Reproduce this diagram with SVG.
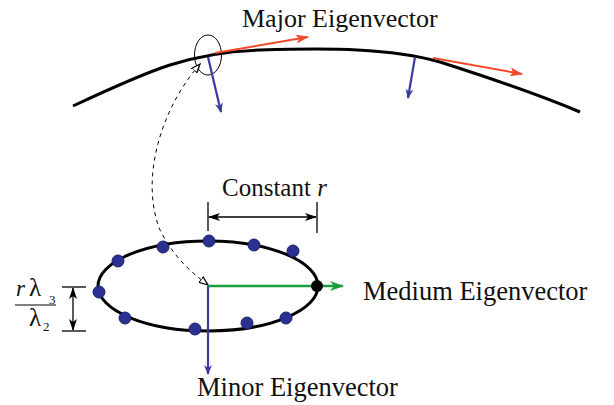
<svg xmlns="http://www.w3.org/2000/svg" width="614" height="405" viewBox="0 0 614 405">
<style>
.lbl{font-family:"Liberation Serif","Times New Roman",serif;fill:#111;}
.curve{fill:none;stroke:#000;stroke-width:3;}
.blue{stroke:#3b3aa0;stroke-width:2.2;fill:none;}
.red{stroke:#f4492b;stroke-width:2;fill:none;}
.green{stroke:#1a9e3c;stroke-width:2.5;fill:none;}
.dim{stroke:#000;stroke-width:1.3;fill:none;}
.dot{fill:#2b3190;stroke:#1c1f6a;stroke-width:1;}
</style>
<defs>
<marker id="ab" markerWidth="10" markerHeight="8" refX="9" refY="4" orient="auto" markerUnits="userSpaceOnUse"><path d="M0,0 L10,4 L0,8 L3,4 Z" fill="#3b3aa0"/></marker>
<marker id="ar" markerWidth="13" markerHeight="9" refX="12" refY="4.5" orient="auto" markerUnits="userSpaceOnUse"><path d="M0,0 L13,4.5 L0,9 L3,4.5 Z" fill="#f4492b"/></marker>
<marker id="ag" markerWidth="14" markerHeight="10" refX="13" refY="5" orient="auto" markerUnits="userSpaceOnUse"><path d="M0,0 L14,5 L0,10 L4,5 Z" fill="#1a9e3c"/></marker>
<marker id="ak" markerWidth="12" markerHeight="8" refX="11" refY="4" orient="auto-start-reverse" markerUnits="userSpaceOnUse"><path d="M0,0 L12,4 L0,8 L3,4 Z" fill="#000"/></marker>
<marker id="ad" markerWidth="10" markerHeight="8" refX="9" refY="4" orient="auto-start-reverse" markerUnits="userSpaceOnUse"><path d="M0,0.5 L9,4 L0,7.5 Z" fill="#fff" stroke="#000" stroke-width="1.3"/></marker>
</defs>
<g id="surface">
<path class="curve" d="M73,106 C150,70 190,52 260,50 C330,48 390,48 440,62 C490,78 540,95 580,112"/>
<ellipse cx="208" cy="55" rx="13.5" ry="20" fill="none" stroke="#000" stroke-width="1"/>
</g>
<g id="ellipse-node">
<ellipse cx="208" cy="286" rx="110" ry="45" fill="none" stroke="#000" stroke-width="3"/>
<circle class="dot" cx="118" cy="261" r="6"/>
<circle class="dot" cx="163" cy="247" r="6"/>
<circle class="dot" cx="209" cy="241" r="6"/>
<circle class="dot" cx="254" cy="245" r="6"/>
<circle class="dot" cx="293" cy="251" r="6"/>
<circle class="dot" cx="99" cy="292" r="6"/>
<circle class="dot" cx="125" cy="318" r="6"/>
<circle class="dot" cx="195" cy="329" r="6"/>
<circle class="dot" cx="247" cy="323" r="6"/>
<circle class="dot" cx="286" cy="318" r="6"/>
</g>
<g id="connectors">
<line class="red" x1="215" y1="53" x2="308" y2="37" marker-end="url(#ar)"/>
<line class="red" x1="433" y1="58" x2="522" y2="74" marker-end="url(#ar)"/>
<line class="blue" x1="208" y1="57" x2="221" y2="112" marker-end="url(#ab)"/>
<line class="blue" x1="415" y1="57" x2="408" y2="98" marker-end="url(#ab)"/>
<path d="M200,64 C160,110 140,180 160,230 C175,260 195,275 208,285" fill="none" stroke="#000" stroke-width="1" stroke-dasharray="4,4" marker-start="url(#ad)" marker-end="url(#ad)"/>
<line class="green" x1="208" y1="286" x2="343" y2="286" marker-end="url(#ag)"/>
<circle cx="317" cy="286" r="6" fill="#000"/>
<line class="blue" x1="208" y1="286" x2="208" y2="374" marker-end="url(#ab)"/>
<line class="dim" x1="208" y1="202" x2="208" y2="231"/>
<line class="dim" x1="317" y1="202" x2="317" y2="233"/>
<line class="dim" x1="209" y1="217" x2="316" y2="217" marker-start="url(#ak)" marker-end="url(#ak)"/>
<line class="dim" x1="62" y1="287" x2="86" y2="287"/>
<line class="dim" x1="62" y1="331" x2="86" y2="331"/>
<line class="dim" x1="73" y1="288" x2="73" y2="330" marker-start="url(#ak)" marker-end="url(#ak)"/>
</g>
<g id="labels">
<text class="lbl" x="242" y="27" font-size="26">Major Eigenvector</text>
<text class="lbl" x="222" y="196" font-size="25">Constant <tspan font-style="italic">r</tspan></text>
<text class="lbl" x="363" y="300" font-size="26.5">Medium Eigenvector</text>
<text class="lbl" x="197" y="396" font-size="26.5">Minor Eigenvector</text>
<text class="lbl" x="16" y="296" font-size="23" font-style="italic">r</text>
<text class="lbl" x="29" y="296" font-size="25">λ</text>
<text class="lbl" x="49" y="304" font-size="13">3</text>
<line x1="15" y1="305" x2="56" y2="305" stroke="#000" stroke-width="1"/>
<text class="lbl" x="29" y="326" font-size="25">λ</text>
<text class="lbl" x="43" y="331" font-size="13">2</text>
</g>
</svg>
